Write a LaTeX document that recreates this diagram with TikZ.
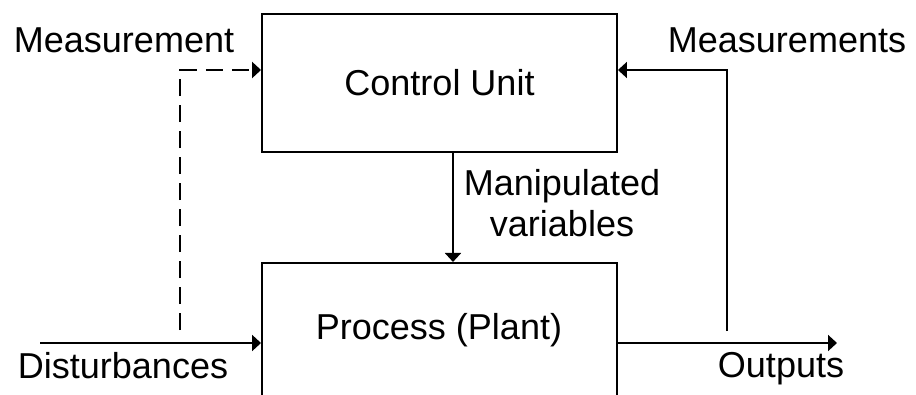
\documentclass[tikz,border=0pt]{standalone}
\usepackage{fontspec}
\setmainfont{Liberation Sans}
\usetikzlibrary{arrows.meta, positioning}

\begin{document}
\begin{tikzpicture}[x=0.02cm, y=-0.02cm,
  every node/.style={font=\fontsize{20.5}{23.3}\selectfont, inner sep=0pt},
  block/.style={draw, line width=0.04cm, minimum width=7.1cm},
  flow/.style={line width=0.04cm, -{Triangle[length=0.18cm, width=0.32cm]}},
  tap/.style={flow, line width=0.05cm, dash pattern=on 0.34cm off 0.18cm}]
\clip (0,0) rectangle (916,395);
% blocks
\node[block, minimum height=2.76cm] (ctrl) at (439.5,83) {Control Unit};
\node[block, minimum height=4cm, below=2.18cm of ctrl] (plant) {};
\node (plantlbl) at (439,330) {Process (Plant)};
% manipulated variables
\draw[flow] ([xshift=0.27cm]ctrl.south) -- ([xshift=0.27cm]plant.north);
\node[align=center] (mv) at (562,203) {Manipulated\\variables};
% disturbances and the measured ones
\coordinate (dist) at (40,343);
\coordinate (tap) at (180,330);
\draw[flow] (dist) -- (dist -| plant.west);
\draw[tap] (tap) |- ([yshift=0.26cm]ctrl.west);
\node (distlbl) at (123,366) {Disturbances};
\node (meas) at (124,40) {Measurement};
% outputs and feedback
\coordinate (out) at (837,343);
\coordinate (fb) at (727,331);
\draw[flow] (out -| plant.east) -- (out);
\draw[flow] (fb) |- ([yshift=0.26cm]ctrl.east);
\node (outlbl) at (781,369) {Outputs};
\node (measall) at (787,40) {Measurements};
\end{tikzpicture}
\end{document}
